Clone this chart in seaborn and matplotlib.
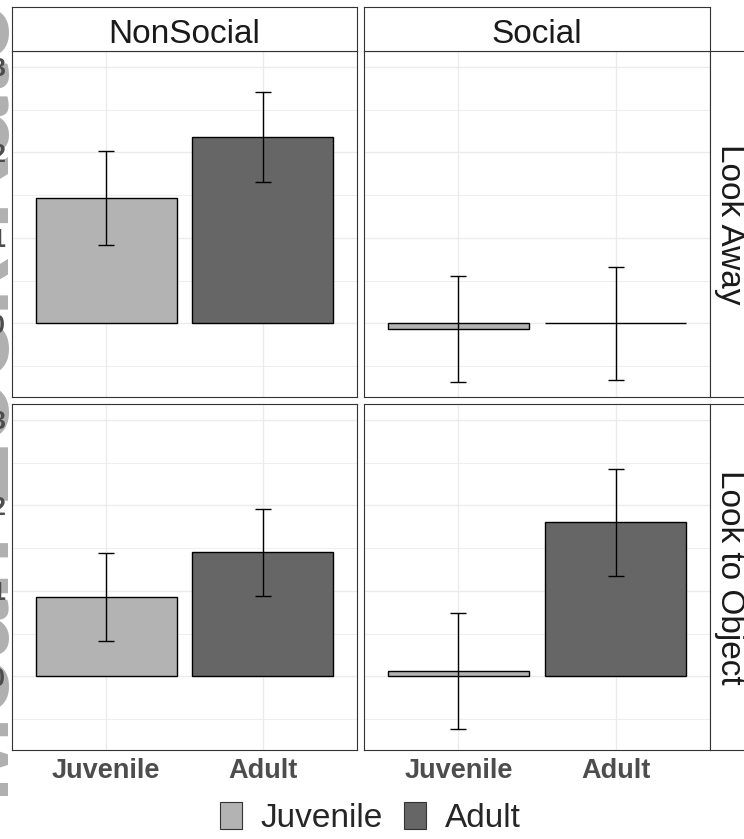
import numpy as np
import pandas as pd
import matplotlib
matplotlib.use("Agg")
import matplotlib.pyplot as plt
import seaborn as sns
from matplotlib.patches import Patch

sns.set_style("white")
plt.rcParams["font.family"] = ["Liberation Sans", "DejaVu Sans"]

# ---------------------------------------------------------
# Data (bar height and error-bar half width)
# ---------------------------------------------------------
ages = ["Juvenile", "Adult"]
conditions = ["NonSocial", "Social"]
behaviours = ["Look Away", "Look to Object"]

nonsocial_away = [1.47, 2.18]
nonsocial_away_err = [0.55, 0.53]
social_away = [-0.06, 0.0]
social_away_err = [0.62, 0.66]
nonsocial_object = [0.93, 1.45]
nonsocial_object_err = [0.51, 0.51]
social_object = [0.06, 1.80]
social_object_err = [0.68, 0.62]

y_ticks = [0, 1, 2, 3]
palette = {"Juvenile": "#B3B3B3", "Adult": "#666666"}

rows = []
for beh, cond, means, errs in [
    ("Look Away", "NonSocial", nonsocial_away, nonsocial_away_err),
    ("Look Away", "Social", social_away, social_away_err),
    ("Look to Object", "NonSocial", nonsocial_object, nonsocial_object_err),
    ("Look to Object", "Social", social_object, social_object_err),
]:
    for age, m, e in zip(ages, means, errs):
        rows.append({"behaviour": beh, "condition": cond, "age": age, "mean": m, "err": e})
df = pd.DataFrame(rows)

# ---------------------------------------------------------
# Layout in pixels
# ---------------------------------------------------------
W, H = 744, 839
fig = plt.figure(figsize=(W / 100, H / 100), dpi=100)


def px_rect(x0, y0, x1, y1):
    return [x0 / W, 1 - y1 / H, (x1 - x0) / W, (y1 - y0) / H]


col_x = [(12, 357), (364, 710)]
row_y = [(51, 397), (404, 750)]
border = "#333333"

# big grey axis title, mostly cut off on the left edge
fig.text(9 / W, 0.52, "Mean Look Rate", rotation=90, rotation_mode="anchor",
         ha="center", va="baseline", fontsize=75, fontweight="bold",
         color="#B0B0B0", zorder=-1)

for r, beh in enumerate(behaviours):
    for c, cond in enumerate(conditions):
        x0, x1 = col_x[c]
        y0, y1 = row_y[r]
        ax = fig.add_axes(px_rect(x0, y0, x1, y1))
        ax.patch.set_alpha(0)
        sub = df[(df.behaviour == beh) & (df.condition == cond)].set_index("age").loc[ages]
        sns.barplot(data=sub.reset_index(), x="age", y="mean", hue="age",
                    order=ages, hue_order=ages, palette=palette, width=0.9,
                    edgecolor="black", linewidth=1.0, errorbar=None,
                    legend=False, ax=ax)
        ax.errorbar(x=np.arange(len(ages)), y=sub["mean"], yerr=sub["err"],
                    fmt="none", ecolor="black", elinewidth=1.0,
                    capsize=5.5, capthick=1.0, zorder=4)

        ax.set_xlim(-0.6, 1.6)
        ax.set_ylim(-0.86, 3.185)
        ax.set_yticks(y_ticks)
        ax.set_yticks([-0.5, 0.5, 1.5, 2.5], minor=True)
        ax.set_axisbelow(True)
        ax.grid(which="major", color="#EBEBEB", lw=1.0)
        ax.grid(which="minor", axis="y", color="#EBEBEB", lw=0.6)
        ax.set_xlabel("")
        ax.set_ylabel("")
        for sp in ax.spines.values():
            sp.set_color(border)
            sp.set_linewidth(0.8)

        ax.tick_params(which="minor", length=0)
        if c == 0:
            ax.tick_params(axis="y", length=3.6, width=0.8, color=border, pad=1.5,
                           labelsize=18, labelcolor="#4D4D4D")
            for lbl in ax.get_yticklabels():
                lbl.set_fontweight("bold")
        else:
            ax.tick_params(axis="y", left=False, labelleft=False)
        if r == len(behaviours) - 1:
            ax.tick_params(axis="x", length=3.6, width=0.8, color=border, pad=2,
                           labelsize=19.5, labelcolor="#4D4D4D")
            for lbl in ax.get_xticklabels():
                lbl.set_fontweight("bold")
        else:
            ax.tick_params(axis="x", bottom=False, labelbottom=False)

        # right-hand strip
        if c == len(conditions) - 1:
            sax = fig.add_axes(px_rect(710, y0, 756, y1))
            sax.set_xticks([])
            sax.set_yticks([])
            sax.set_facecolor("white")
            for sp in sax.spines.values():
                sp.set_color(border)
                sp.set_linewidth(0.8)
            fig.text(730 / W, 1 - (y0 + y1) / 2 / H, beh, rotation=270,
                     ha="center", va="center", fontsize=24, color="#1A1A1A")

# top strips
for c, cond in enumerate(conditions):
    x0, x1 = col_x[c]
    sax = fig.add_axes(px_rect(x0, 7, x1, 51))
    sax.set_xticks([])
    sax.set_yticks([])
    sax.set_facecolor("white")
    for sp in sax.spines.values():
        sp.set_color(border)
        sp.set_linewidth(0.8)
    fig.text((x0 + x1) / 2 / W, 1 - 43 / H, cond, ha="center", va="baseline",
             fontsize=24, color="#1A1A1A")

# legend
handles = [Patch(facecolor=palette[a], edgecolor=border, linewidth=0.8, label=a) for a in ages]
fig.legend(handles=handles, loc="center", bbox_to_anchor=(370.5 / W, 1 - 818 / H),
           ncol=2, frameon=False, fontsize=24, handlelength=0.66, handleheight=0.87,
           handletextpad=0.57, columnspacing=0.63, borderpad=0, borderaxespad=0)

fig.savefig("out.png", dpi=100)
